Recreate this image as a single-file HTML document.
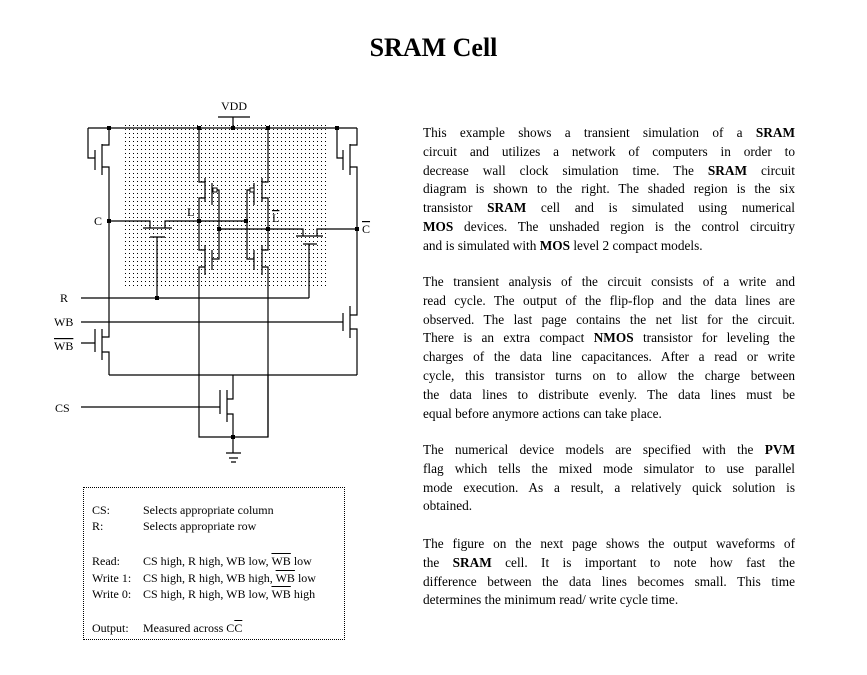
<!DOCTYPE html>
<html><head><meta charset="utf-8"><style>
body{margin:0;background:#fff;width:867px;height:675px;position:relative;overflow:hidden;font-family:"Liberation Serif",serif;color:#000}
.t{position:absolute;font-size:26px;font-weight:bold;left:0;width:867px;text-align:center;top:33px}
.p{position:absolute;left:423px;width:372px;font-size:13.3px;line-height:18.8px}
.p div{text-align:justify;text-align-last:justify;white-space:nowrap}
.p div.l{text-align-last:left}
.lg{position:absolute;left:83px;top:487px;width:260px;height:151px;border:1px dotted #000;font-size:12px}
.lg div{position:absolute;white-space:nowrap}
.ov{text-decoration:overline}
svg{position:absolute;left:0;top:0}
</style></head><body>
<div class="t">SRAM Cell</div>
<svg width="867" height="675" viewBox="0 0 867 675">
<defs><pattern id="d" width="4" height="4" patternUnits="userSpaceOnUse"><rect x="1" y="1" width="1" height="1" fill="#000"/></pattern></defs>
<rect x="124" y="123" width="203" height="165" fill="url(#d)"/>
<g stroke="#000" stroke-width="1.2" fill="none">
<!-- VDD -->
<path d="M218 117H250M233 117V128M88 128H357"/>
<!-- left top transistor -->
<path d="M88 128V158H95M95 150V170M102 144V175M109 128V145H102M102 167H109V337H102M102 352H109V375"/>
<!-- right top transistor -->
<path d="M337 128V158H343M343 150V170M350 144V175M357 128V145H350M350 167H357V315H350M350 329H357V375"/>
<!-- left pass transistor -->
<path d="M109 221H150V228M143 228H172M165 228V221H246M150 237H165M157 237V298"/>
<!-- right pass transistor -->
<path d="M219 229H303V236M296 236H323M317 236V229H357M303 244H317M309 244V298"/>
<!-- R line -->
<path d="M81 298H309"/>
<!-- left inverter -->
<path d="M199 128V182H205M205 178V202M205 198H199V250H205M205 245V275M205 267H199V437H268V375"/>
<path d="M212 183V205M215 190H219V259H212M212 250V270"/>
<!-- right inverter -->
<path d="M268 128V182H262M262 178V202M262 198H268V250H262M262 245V275M262 267H268V437"/>
<path d="M254 183V205M251 190H247V259H254M254 250V270"/>
<!-- WB lines -->
<path d="M81 322H343M343 313V331M350 306V338"/>
<path d="M81 343H95M95 329V352M102 329V360"/>
<!-- bottom rail -->
<path d="M109 375H357"/>
<!-- CS transistor -->
<path d="M233 375V399H227M227 390V422M227 414H233V453M220 390V414M81 407H220"/>
<path d="M226 453H241M229 458H238M231 462H236"/>
</g>
<rect x="213" y="188" width="4" height="4" fill="#fff" stroke="#000" stroke-width="1"/>
<rect x="250" y="188" width="4" height="4" fill="#fff" stroke="#000" stroke-width="1"/>
<g fill="#000">
<rect x="107" y="126" width="4" height="4"/><rect x="197" y="126" width="4" height="4"/><rect x="231" y="126" width="4" height="4"/><rect x="266" y="126" width="4" height="4"/><rect x="335" y="126" width="4" height="4"/>
<rect x="107" y="219" width="4" height="4"/><rect x="197" y="219" width="4" height="4"/><rect x="244" y="219" width="4" height="4"/><rect x="217" y="227" width="4" height="4"/><rect x="266" y="227" width="4" height="4"/><rect x="355" y="227" width="4" height="4"/>
<rect x="155" y="296" width="4" height="4"/><rect x="231" y="435" width="4" height="4"/>
</g>
<g font-family="Liberation Serif,serif" font-size="12">
<text x="221" y="110">VDD</text>
<text x="94" y="225">C</text>
<text x="362" y="233" text-decoration="overline">C</text>
<text x="187" y="216">L</text>
<text x="272" y="222" text-decoration="overline">L</text>
<text x="60" y="302">R</text>
<text x="54" y="326">WB</text>
<text x="54" y="350" text-decoration="overline">WB</text>
<text x="55" y="412">CS</text>
</g>
</svg>
<div class="p" style="top:124px">
<div>This example shows a transient simulation of a <b>SRAM</b></div>
<div>circuit and utilizes a network of computers in order to</div>
<div>decrease wall clock simulation time. The <b>SRAM</b> circuit</div>
<div>diagram is shown to the right. The shaded region is the six</div>
<div>transistor <b>SRAM</b> cell and is simulated using numerical</div>
<div><b>MOS</b> devices. The unshaded region is the control circuitry</div>
<div class="l">and is simulated with <b>MOS</b> level 2 compact models.</div>
</div>
<div class="p" style="top:273px">
<div>The transient analysis of the circuit consists of a write and</div>
<div>read cycle. The output of the flip-flop and the data lines are</div>
<div>observed. The last page contains the net list for the circuit.</div>
<div>There is an extra compact <b>NMOS</b> transistor for leveling the</div>
<div>charges of the data line capacitances. After a read or write</div>
<div>cycle, this transistor turns on to allow the charge between</div>
<div>the data lines to distribute evenly. The data lines must be</div>
<div class="l">equal before anymore actions can take place.</div>
</div>
<div class="p" style="top:441px">
<div>The numerical device models are specified with the <b>PVM</b></div>
<div>flag which tells the mixed mode simulator to use parallel</div>
<div>mode execution. As a result, a relatively quick solution is</div>
<div class="l">obtained.</div>
</div>
<div class="p" style="top:535px">
<div>The figure on the next page shows the output waveforms of</div>
<div>the <b>SRAM</b> cell. It is important to note how fast the</div>
<div>difference between the data lines becomes small. This time</div>
<div class="l">determines the minimum read/ write cycle time.</div>
</div>
<div class="lg">
<div style="left:8px;top:15px">CS:</div><div style="left:59px;top:15px">Selects appropriate column</div>
<div style="left:8px;top:31px">R:</div><div style="left:59px;top:31px">Selects appropriate row</div>
<div style="left:8px;top:66px">Read:</div><div style="left:59px;top:66px">CS high, R high, WB low, <span class="ov">WB</span> low</div>
<div style="left:8px;top:83px">Write 1:</div><div style="left:59px;top:83px">CS high, R high, WB high, <span class="ov">WB</span> low</div>
<div style="left:8px;top:99px">Write 0:</div><div style="left:59px;top:99px">CS high, R high, WB low, <span class="ov">WB</span> high</div>
<div style="left:8px;top:133px">Output:</div><div style="left:59px;top:133px">Measured across C<span class="ov">C</span></div>
</div>
</body></html>
